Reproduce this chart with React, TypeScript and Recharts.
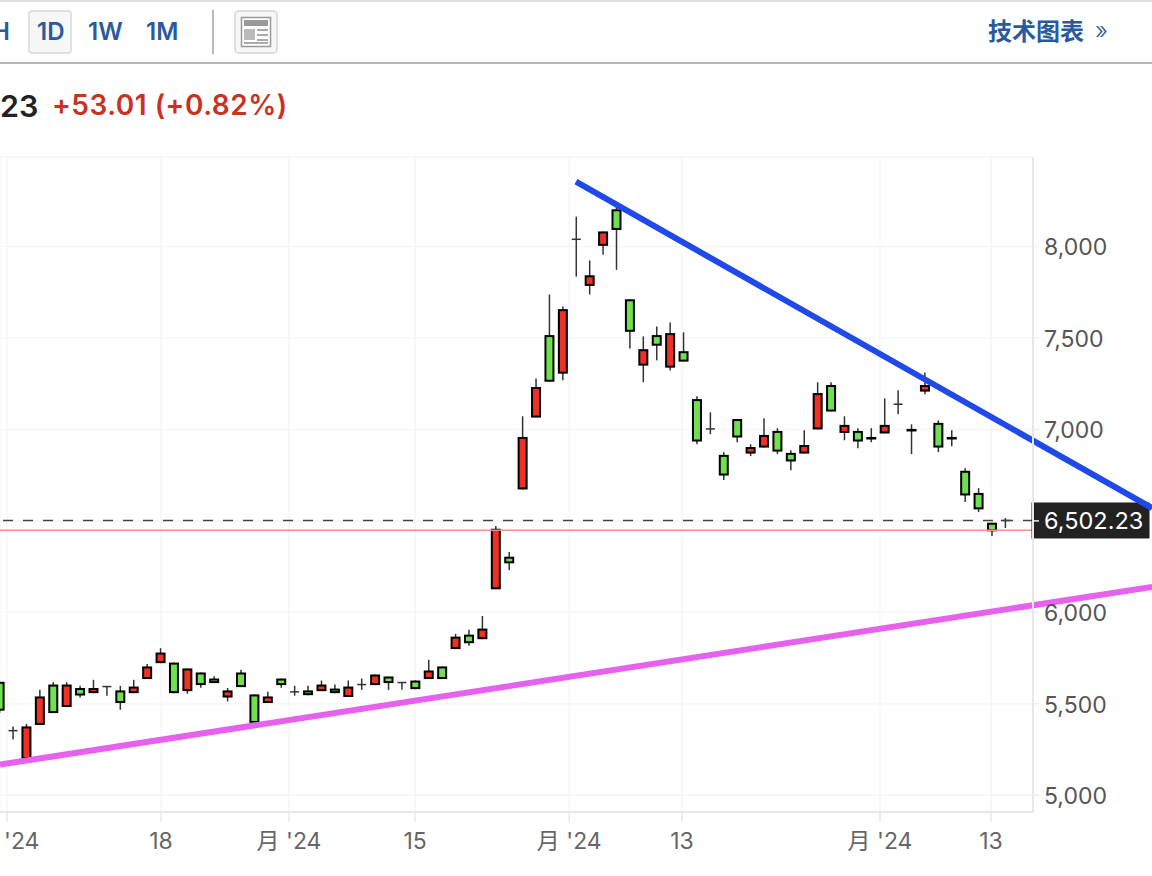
import { ComposedChart, Bar, XAxis, YAxis, CartesianGrid, ReferenceLine } from 'recharts';

const opens = [
  5620, 5353, 5198, 5384, 5605, 5482, 5586, 5558, 5594, 5573,
  5558, 5635, 5722, 5725, 5569, 5671, 5638, 5534, 5671, 5551,
  5504, 5638, 5565, 5573, 5569, 5583, 5537, 5605, 5602, 5649,
  5616, 5627, 5635, 5704, 5799, 5878, 5853, 6126, 6304, 6672,
  7065, 7516, 7305, 8040, 7785, 8004, 8204, 7712, 7349, 7516,
  7338, 7428, 7166, 7003, 6861, 7057, 6868, 6901, 6992, 6872,
  6868, 7000, 7243, 6981, 6992, 6959, 6978, 7138, 7003, 7207,
  7036, 6959, 6774, 6653, 6490, 6502.23,
];
const closes = [
  5462, 5353, 5376, 5540, 5449, 5605, 5545, 5586, 5594, 5504,
  5594, 5704, 5780, 5558, 5693, 5602, 5613, 5573, 5591, 5395,
  5540, 5602, 5565, 5547, 5605, 5558, 5594, 5605, 5660, 5613,
  5616, 5580, 5682, 5635, 5867, 5831, 5911, 6457, 6268, 6959,
  7232, 7261, 7658, 8040, 7843, 8083, 8091, 7534, 7439, 7458,
  7527, 7371, 6934, 7003, 6748, 6956, 6904, 6970, 6879, 6825,
  6915, 7199, 7098, 7025, 6934, 6945, 7025, 7138, 6989, 7243,
  6901, 6945, 6639, 6563, 6443, 6502.23,
];
const highs = [
  5620, 5376, 5389, 5576, 5618, 5618, 5598, 5631, 5594, 5598,
  5631, 5717, 5804, 5725, 5693, 5671, 5651, 5586, 5686, 5551,
  5565, 5638, 5598, 5598, 5627, 5605, 5627, 5638, 5660, 5649,
  5616, 5627, 5740, 5704, 5882, 5904, 5980, 6472, 6330, 7072,
  7279, 7738, 7672, 8164, 7924, 8083, 8218, 7712, 7509, 7563,
  7585, 7531, 7181, 7094, 6876, 7057, 6919, 7061, 7007, 6886,
  6996, 7258, 7258, 7072, 7007, 7007, 7170, 7214, 7028, 7312,
  7050, 6996, 6788, 6679, 6490, 6515,
];
const lows = [
  5449, 5304, 5198, 5384, 5449, 5482, 5534, 5558, 5544, 5467,
  5558, 5635, 5722, 5558, 5555, 5587, 5613, 5513, 5591, 5395,
  5504, 5587, 5544, 5547, 5569, 5558, 5537, 5576, 5602, 5576,
  5576, 5580, 5635, 5635, 5799, 5817, 5853, 6126, 6231, 6672,
  7065, 7261, 7269, 7836, 7738, 7956, 7873, 7443, 7258, 7378,
  7323, 7371, 6919, 6974, 6723, 6930, 6854, 6901, 6865, 6777,
  6868, 7000, 7098, 6941, 6897, 6930, 6978, 7083, 6865, 7192,
  6876, 6908, 6603, 6548, 6417, 6461,
];

const xTicks = [0.57, 12.06, 21.6, 31, 42.5, 50.9, 65.67, 73.95];
const xTickLabels = ["月 '24", '18', "月 '24", '15', "月 '24", '13', "月 '24", '13'];
const yTicks = [5000, 5500, 6000, 6500, 7000, 7500, 8000];

const lastPrice = 6502.23;
const prevClose = 6449.22;
const blueTrend = [{ x: 43, y: 8355 }, { x: 85.96, y: 6570 }];
const pinkTrend = [{ x: 0.05, y: 5167 }, { x: 85.96, y: 6139 }];

const candles = opens.map((open, i) => ({
  i,
  open,
  close: closes[i],
  high: highs[i],
  low: lows[i],
}));

function Candle(props: any) {
  const { x, y, width, height, payload } = props;
  const { open, close, high, low } = payload;
  const perUnit = height / (high - low);
  const yOf = (v: number) => y + (high - v) * perUnit;
  const cx = x + width / 2;
  const top = yOf(Math.max(open, close));
  const bottom = yOf(Math.min(open, close));
  return (
    <g>
      <line x1={cx} x2={cx} y1={y} y2={y + height} stroke="#333" strokeWidth={1.5} />
      {open === close ? (
        <line x1={x + 0.5} x2={x + width - 0.5} y1={top} y2={top} stroke="#333" strokeWidth={1.5} />
      ) : (
        <rect
          x={x + 1}
          y={top + 1}
          width={width - 2}
          height={Math.max(bottom - top - 2, 0.5)}
          fill={close > open ? '#ee3124' : '#6fe04f'}
          stroke="#000"
          strokeWidth={2}
        />
      )}
    </g>
  );
}

function PriceTag(props: any) {
  const { x, y, width } = props.viewBox;
  return (
    <g>
      <rect x={x + width - 1.5} y={y - 18} width={118} height={36} fill="#222" />
      <text x={x + width + 11} y={y + 9} fill="#fff" fontSize={23.5}>
        {lastPrice.toLocaleString('en-US')}
      </text>
    </g>
  );
}

const blue = '#2a5a9c';
const headerItem = (left: number, text: string) => (
  <span style={{ position: 'absolute', left, top: 17, fontSize: 24, fontWeight: 600, color: blue, lineHeight: '30px' }}>
    {text}
  </span>
);

export default function App() {
  return (
    <div
      style={{
        position: 'absolute', left: 0, top: 0, width: 1152, height: 876,
        background: '#fff', overflow: 'hidden', fontFamily: "Inter, 'Noto Sans CJK SC', sans-serif",
      }}
    >
      <div style={{ position: 'absolute', left: 0, top: 0, width: 1152, height: 2, background: '#ddd' }} />
      <div style={{ position: 'absolute', left: 0, top: 62, width: 1152, height: 2, background: '#b5b5b5' }} />
      <div
        style={{
          position: 'absolute', left: 28, top: 10, width: 44, height: 44, boxSizing: 'border-box',
          background: '#f7f7f7', border: '2px solid #e0e0e0', borderRadius: 4,
        }}
      />
      {headerItem(-8, 'H')}
      {headerItem(37, '1D')}
      {headerItem(88, '1W')}
      {headerItem(146, '1M')}
      <div style={{ position: 'absolute', left: 212, top: 10, width: 2, height: 44, background: '#bbb' }} />
      <svg style={{ position: 'absolute', left: 234, top: 10 }} width={44} height={44}>
        <rect x={1} y={1} width={42} height={42} rx={4} fill="#f7f7f7" stroke="#ddd" strokeWidth={2} />
        <rect x={7.5} y={7.5} width={29} height={29} fill="#fff" stroke="#999" strokeWidth={1.5} />
        <rect x={10} y={10} width={24} height={6} fill="#999" />
        <rect x={10} y={19} width={11} height={11} fill="#bbb" />
        <rect x={23} y={19} width={11} height={2} fill="#aaa" />
        <rect x={23} y={24} width={11} height={2} fill="#aaa" />
        <rect x={23} y={29} width={11} height={2} fill="#aaa" />
        <rect x={10} y={32} width={24} height={2} fill="#aaa" />
      </svg>
      <span style={{ position: 'absolute', left: 988, top: 16, fontSize: 24, fontWeight: 700, color: blue, lineHeight: '32px' }}>
        技术图表
      </span>
      <span style={{ position: 'absolute', left: 1095, top: 15, fontSize: 24, fontWeight: 300, color: blue, lineHeight: '32px' }}>»</span>
      <span style={{ position: 'absolute', left: 0, top: 88, fontSize: 30.5, fontWeight: 600, color: '#222', lineHeight: '36px' }}>
        23
      </span>
      <span
        style={{
          position: 'absolute', left: 52, top: 88, fontSize: 28, fontWeight: 600, letterSpacing: 0.5,
          color: '#c8321f', lineHeight: '34px',
        }}
      >
        +53.01 (+0.82%)
      </span>

      <ComposedChart
        width={1152}
        height={876}
        data={candles}
        margin={{ top: 157, right: 0, bottom: 0, left: 0 }}
        style={{ position: 'absolute', left: 0, top: 0 }}
      >
        <CartesianGrid stroke="#f5f6f8" strokeWidth={1.5} />
        <XAxis
          dataKey="i"
          type="number"
          scale="linear"
          domain={[0.05, 77.08]}
          allowDataOverflow
          ticks={xTicks}
          interval={0}
          height={64}
          tickSize={10}
          tickMargin={11}
          tickFormatter={(_v: number, index: number) => xTickLabels[index]}
          tick={{ fill: '#666', fontSize: 23 }}
          tickLine={{ stroke: '#e4e7ee', strokeWidth: 1.5 }}
          axisLine={{ stroke: '#e4e7ee', strokeWidth: 2 }}
        />
        <YAxis
          orientation="right"
          type="number"
          domain={[4908, 8490]}
          allowDataOverflow
          ticks={yTicks}
          interval={0}
          width={119}
          tickSize={6}
          tickMargin={5}
          tickFormatter={(v: number) => (v === 6500 ? '' : v.toLocaleString('en-US'))}
          tick={{ fill: '#555', fontSize: 23, textAnchor: 'start', dy: 0.7 }}
          tickLine={{ stroke: '#eceef2', strokeWidth: 1.5 }}
          axisLine={{ stroke: '#e4e7ee', strokeWidth: 2 }}
        />
        <ReferenceLine y={prevClose} stroke="#f58f8f" strokeWidth={1.5} />
        <ReferenceLine y={lastPrice} stroke="#444" strokeWidth={1.5} strokeDasharray="10 10" label={<PriceTag />} />
        <Bar dataKey={(d: any) => [d.low, d.high]} barSize={10} shape={<Candle />} isAnimationActive={false} />
        <ReferenceLine segment={pinkTrend} ifOverflow="visible" stroke="#e561ee" strokeWidth={6} />
        <ReferenceLine segment={blueTrend} ifOverflow="visible" stroke="#1f49e8" strokeWidth={6} />
      </ComposedChart>
    </div>
  );
}
